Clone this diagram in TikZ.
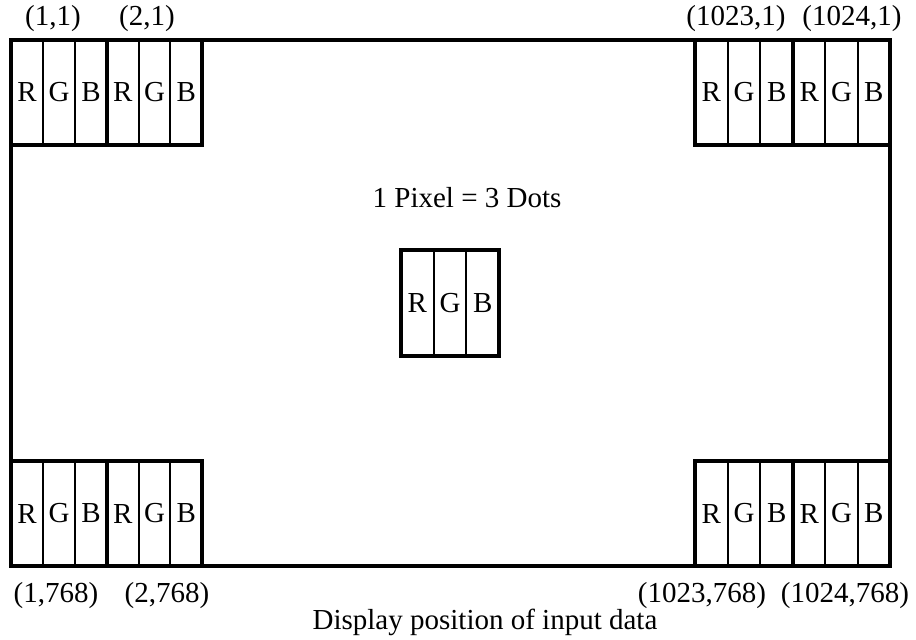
\documentclass[tikz,border=0pt]{standalone}
\usepackage{fontspec}
\setmainfont{Liberation Serif}
\tikzset{
  thickline/.style={line width=4.5pt},
  dotcell/.style={draw, line width=1.8pt, inner sep=0pt, outer sep=0pt, font=\fontsize{29}{31}\selectfont},
  lbl/.style={inner sep=0pt, font=\fontsize{29}{31}\selectfont},
}
\newcommand\pixelbox[5]{%
  \node[dotcell, minimum width=#4pt, minimum height=#5pt, anchor=north west] (#1r) at (#2,#3) {R};
  \node[dotcell, minimum width=#4pt, minimum height=#5pt, anchor=north west] (#1g) at (#1r.north east) {G};
  \node[dotcell, minimum width=#4pt, minimum height=#5pt, anchor=north west] (#1b) at (#1g.north east) {B};
  \draw[thickline] (#1r.north west) rectangle (#1b.south east);
}
\begin{document}
\begin{tikzpicture}[x=1pt, y=-1pt]
  \useasboundingbox (0,0) rectangle (916,640);
  \node[draw, thickline, inner sep=0pt, outer sep=0pt, minimum width=879pt, minimum height=526pt, anchor=north west] (frame) at (11,40) {};
  % corner pixels
  \pixelbox{tla}{11}{40}{32}{105}
  \pixelbox{tlb}{107}{40}{31.67}{105}
  \pixelbox{tra}{695}{40}{32.67}{105}
  \pixelbox{trb}{793}{40}{32.33}{105}
  \pixelbox{bla}{11}{461}{32}{105}
  \pixelbox{blb}{107}{461}{31.67}{105}
  \pixelbox{bra}{695}{461}{32.67}{105}
  \pixelbox{brb}{793}{461}{32.33}{105}
  % centre pixel
  \pixelbox{ctr}{401}{250}{32.67}{106}
  % labels
  \node[lbl] (l11) at (53,19) {(1,1)};
  \node[lbl] (l21) at (147,19) {(2,1)};
  \node[lbl] (l10231) at (736,19) {(1023,1)};
  \node[lbl] (l10241) at (852,19) {(1024,1)};
  \node[lbl] (l1768) at (56,596) {(1,768)};
  \node[lbl] (l2768) at (167,596) {(2,768)};
  \node[lbl] (l1023768) at (702,596) {(1023,768)};
  \node[lbl] (l1024768) at (845,596) {(1024,768)};
  \node[lbl] (title) at (467,198) {1 Pixel = 3 Dots};
  \node[lbl] (caption) at (485,622) {Display position of input data};
\end{tikzpicture}
\end{document}
